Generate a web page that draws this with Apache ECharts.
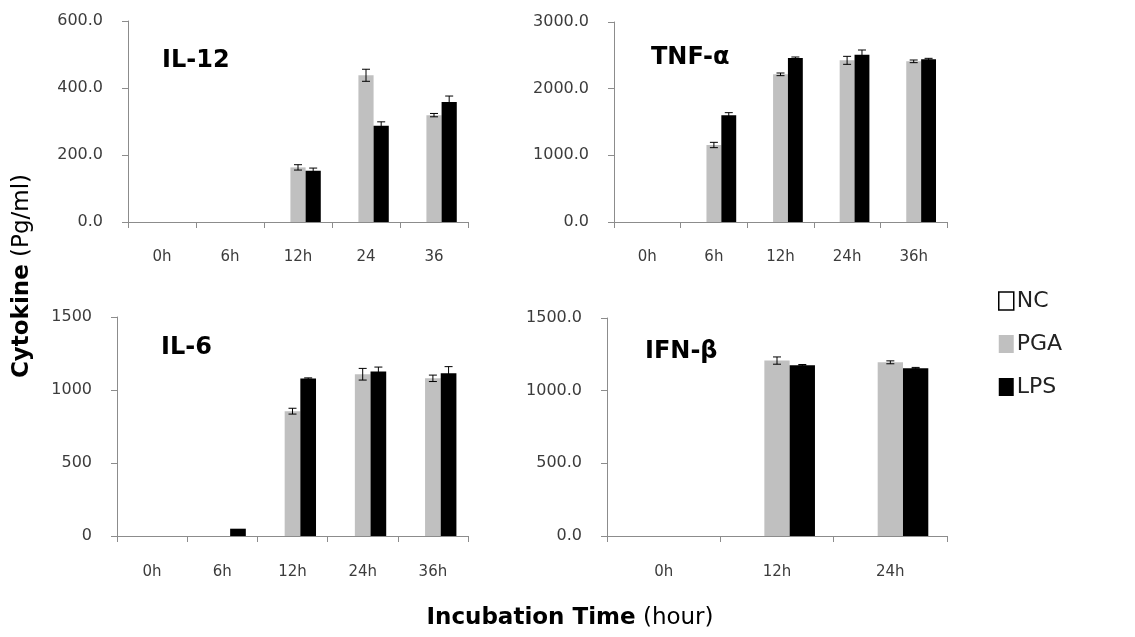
<!DOCTYPE html>
<html>
<head>
<meta charset="utf-8">
<title>Cytokine</title>
<script src="https://cdn.jsdelivr.net/npm/echarts@6/dist/echarts.min.js"></script>
<style>
  html, body { margin: 0; padding: 0; background: #fff; }
  #chart { width: 1135px; height: 637px; }
</style>
</head>
<body>
<div id="chart"></div>
<script>
// categories (time points)
const il12Cats = ['0h', '6h', '12h', '24', '36']
const tnfCats = ['0h', '6h', '12h', '24h', '36h']
const il6Cats = ['0h', '6h', '12h', '24h', '36h']
const ifnCats = ['0h', '12h', '24h']

// IL-12
const il12Nc = [0, 0, 0, 0, 0]
const il12Pga = [0, 0, 163, 438, 319]
const il12PgaErr = [0, 0, 8, 18, 5]
const il12Lps = [0, 0, 153, 287, 358]
const il12LpsErr = [0, 0, 8, 12, 18]

// TNF-α
const tnfNc = [0, 0, 0, 0, 0]
const tnfPga = [0, 1155, 2215, 2425, 2410]
const tnfPgaErr = [0, 40, 20, 60, 20]
const tnfLps = [0, 1600, 2460, 2510, 2440]
const tnfLpsErr = [0, 40, 15, 70, 15]

// IL-6
const il6Nc = [0, 0, 0, 0, 0]
const il6Pga = [0, 0, 855, 1108, 1080]
const il6PgaErr = [0, 0, 20, 40, 22]
const il6Lps = [0, 50, 1078, 1127, 1115]
const il6LpsErr = [0, 0, 5, 30, 45]

// IFN-β
const ifnNc = [0, 0, 0]
const ifnPga = [0, 1207, 1195]
const ifnPgaErr = [0, 25, 10]
const ifnLps = [0, 1175, 1155]
const ifnLpsErr = [0, 5, 5]

const FONT = "'DejaVu Sans', sans-serif"
const GAP = 0.33 // barCategoryGap
const axisColor = '#8c8c8c'
const labelColor = '#3c3c3c'

// 4 panels: grid position, y-axis settings, data
const panels = [
  { title: 'IL-12', tx: 162, ty: 61, grid: { left: 128, top: 21, width: 340, height: 201 }, lm: 28,
    cats: il12Cats, max: 600, interval: 200, dec: 1,
    nc: il12Nc, pga: il12Pga, pgaErr: il12PgaErr, lps: il12Lps, lpsErr: il12LpsErr },
  { title: 'TNF-α', tx: 651, ty: 58, grid: { left: 614, top: 22, width: 333, height: 200 }, lm: 28,
    cats: tnfCats, max: 3000, interval: 1000, dec: 1,
    nc: tnfNc, pga: tnfPga, pgaErr: tnfPgaErr, lps: tnfLps, lpsErr: tnfLpsErr },
  { title: 'IL-6', tx: 161, ty: 348, grid: { left: 117, top: 317, width: 351, height: 219 }, lm: 29,
    cats: il6Cats, max: 1500, interval: 500, dec: 0,
    nc: il6Nc, pga: il6Pga, pgaErr: il6PgaErr, lps: il6Lps, lpsErr: il6LpsErr },
  { title: 'IFN-β', tx: 645, ty: 352, grid: { left: 607, top: 318, width: 340, height: 218 }, lm: 29,
    cats: ifnCats, max: 1500, interval: 500, dec: 1,
    nc: ifnNc, pga: ifnPga, pgaErr: ifnPgaErr, lps: ifnLps, lpsErr: ifnLpsErr }
]

// error bar drawn at bar slot `slot` (0 = NC, 1 = PGA, 2 = LPS)
function errorBar (slot) {
  return function (params, api) {
    const cat = api.value(0)
    const val = api.value(1)
    const err = api.value(2)
    if (!err) return
    const band = api.size([1, 0])[0]
    const barW = band * (1 - GAP) / 3
    const x = api.coord([cat, val])[0] + (slot - 1) * barW
    const yTop = api.coord([cat, val + err])[1]
    const yBot = api.coord([cat, val - err])[1]
    const cap = 4
    const style = { stroke: '#000', lineWidth: 1 }
    return {
      type: 'group',
      children: [
        { type: 'line', shape: { x1: x, y1: yTop, x2: x, y2: yBot }, style },
        { type: 'line', shape: { x1: x - cap, y1: yTop, x2: x + cap, y2: yTop }, style },
        { type: 'line', shape: { x1: x - cap, y1: yBot, x2: x + cap, y2: yBot }, style }
      ]
    }
  }
}

const grids = []
const xAxes = []
const yAxes = []
const series = []
const graphics = []

panels.forEach((p, i) => {
  grids.push(p.grid)
  xAxes.push({
    type: 'category',
    gridIndex: i,
    data: p.cats,
    axisLine: { lineStyle: { color: axisColor, width: 1 } },
    axisTick: { show: true, length: 6, lineStyle: { color: axisColor } },
    axisLabel: { color: labelColor, fontSize: 15, fontFamily: FONT, margin: p.lm }
  })
  yAxes.push({
    type: 'value',
    gridIndex: i,
    min: 0,
    max: p.max,
    interval: p.interval,
    splitLine: { show: false },
    axisLine: { show: true, lineStyle: { color: axisColor, width: 1 } },
    axisTick: { show: true, length: 6, lineStyle: { color: axisColor } },
    axisLabel: {
      color: labelColor, fontSize: 16, fontFamily: FONT, margin: 25,
      formatter: v => v.toFixed(p.dec)
    }
  })
  const common = { type: 'bar', xAxisIndex: i, yAxisIndex: i, barGap: 0, barCategoryGap: GAP * 100 + '%' }
  series.push(Object.assign({ name: 'NC', data: p.nc, itemStyle: { color: '#ffffff' } }, common))
  series.push(Object.assign({ name: 'PGA', data: p.pga, itemStyle: { color: '#c0c0c0' } }, common))
  series.push(Object.assign({ name: 'LPS', data: p.lps, itemStyle: { color: '#000000' } }, common))
  series.push({
    type: 'custom', xAxisIndex: i, yAxisIndex: i, z: 5,
    renderItem: errorBar(1),
    encode: { x: 0, y: 1 },
    data: p.pga.map((v, k) => [k, v, p.pgaErr[k]])
  })
  series.push({
    type: 'custom', xAxisIndex: i, yAxisIndex: i, z: 5,
    renderItem: errorBar(2),
    encode: { x: 0, y: 1 },
    data: p.lps.map((v, k) => [k, v, p.lpsErr[k]])
  })
  graphics.push({
    type: 'text', x: p.tx, y: p.ty,
    style: { text: p.title, fill: '#000', font: 'bold 24px ' + FONT, verticalAlign: 'middle' }
  })
})

// shared axis titles
const titleRich = {
  b: { fontSize: 23, fontWeight: 'bold', fill: '#000', fontFamily: FONT },
  n: { fontSize: 23, fill: '#000', fontFamily: FONT }
}
graphics.push({
  type: 'text', x: 22, y: 276, rotation: Math.PI / 2,
  style: { text: '{b|Cytokine}{n| (Pg/ml)}', align: 'center', verticalAlign: 'middle', rich: titleRich }
})
graphics.push({
  type: 'text', x: 570, y: 618,
  style: { text: '{b|Incubation Time}{n| (hour)}', align: 'center', verticalAlign: 'middle', rich: titleRich }
})

const chart = echarts.init(document.getElementById('chart'))
chart.setOption({
  animation: false,
  backgroundColor: '#fff',
  grid: grids,
  xAxis: xAxes,
  yAxis: yAxes,
  legend: {
    orient: 'vertical',
    left: 993,
    top: 285,
    icon: 'rect',
    itemWidth: 15,
    itemHeight: 18,
    itemGap: 21,
    textStyle: { fontSize: 22, color: '#222', fontFamily: FONT, padding: [0, 0, 0, -2] },
    data: [
      { name: 'NC', itemStyle: { color: '#fff', borderColor: '#000', borderWidth: 1.5 } },
      { name: 'PGA' },
      { name: 'LPS' }
    ]
  },
  graphic: graphics,
  series: series
})
</script>
</body>
</html>
